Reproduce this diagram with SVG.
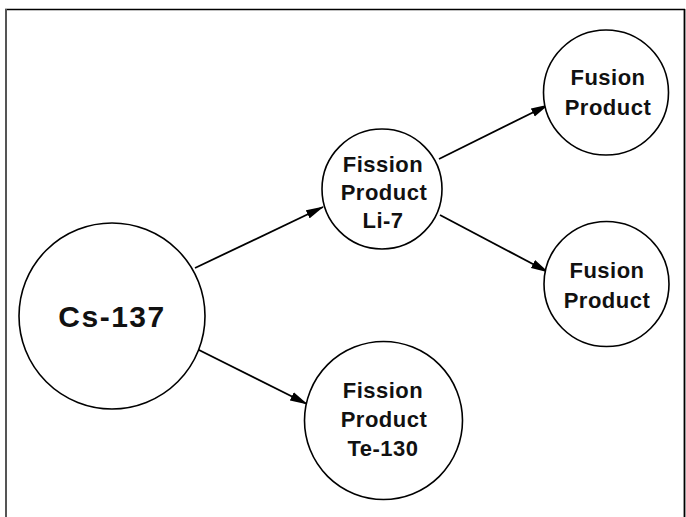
<svg xmlns="http://www.w3.org/2000/svg" width="686" height="517" viewBox="0 0 686 517">
<style>
.node circle{fill:#fff;stroke:#000;stroke-width:1.6}
.lbl{font-family:"Liberation Sans",Arial,sans-serif;font-weight:bold;font-size:22px;letter-spacing:0.5px;text-anchor:middle;fill:#111}
.big{font-size:30px;letter-spacing:1.5px}
.conn line{stroke:#000;stroke-width:1.8;marker-end:url(#ah)}
</style>
<defs>
<marker id="ah" markerWidth="18" markerHeight="10" refX="17" refY="5" orient="auto" markerUnits="userSpaceOnUse">
<path d="M0,0.5 L18,5 L0,9.5 Z" fill="#000"/>
</marker>
</defs>
<rect x="0" y="0" width="686" height="517" fill="#fff"/>
<g id="frame">
<line x1="5" y1="9.5" x2="685" y2="9.5" stroke="#000" stroke-width="1.6"/>
<line x1="6" y1="9" x2="6" y2="517" stroke="#555" stroke-width="2"/>
<line x1="684.5" y1="9" x2="684.5" y2="517" stroke="#000" stroke-width="1.8"/>
</g>
<g id="connectors" class="conn">
<line x1="195" y1="268" x2="323" y2="207"/>
<line x1="197" y1="349" x2="307" y2="404"/>
<line x1="439" y1="159" x2="548" y2="105"/>
<line x1="440" y1="215" x2="548" y2="272"/>
</g>
<g id="cs137" class="node">
<circle cx="112" cy="316" r="93"/>
<text class="lbl big" x="112" y="327">Cs-137</text>
</g>
<g id="li7" class="node">
<circle cx="382" cy="189" r="60"/>
<text class="lbl" x="383" y="172">Fission</text>
<text class="lbl" x="384" y="200">Product</text>
<text class="lbl" x="383" y="228">Li-7</text>
</g>
<g id="te130" class="node">
<circle cx="383.5" cy="420.5" r="79"/>
<text class="lbl" x="383" y="398">Fission</text>
<text class="lbl" x="384" y="427">Product</text>
<text class="lbl" x="383" y="456">Te-130</text>
</g>
<g id="fusion1" class="node">
<circle cx="606" cy="92.5" r="62.5"/>
<text class="lbl" x="608" y="85">Fusion</text>
<text class="lbl" x="608" y="115">Product</text>
</g>
<g id="fusion2" class="node">
<circle cx="606.5" cy="284" r="62.5"/>
<text class="lbl" x="607" y="278">Fusion</text>
<text class="lbl" x="607" y="308">Product</text>
</g>
</svg>
